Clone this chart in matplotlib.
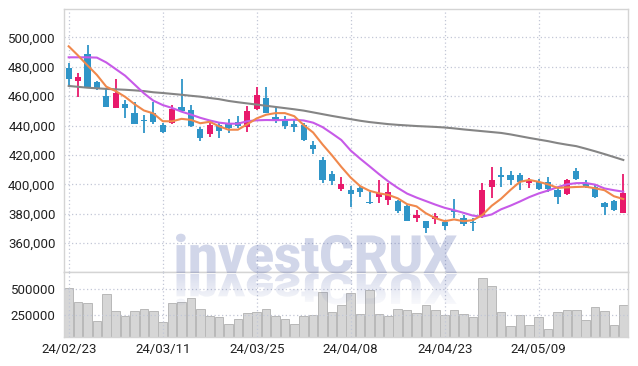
import numpy as np
import matplotlib
matplotlib.use("Agg")
import matplotlib.pyplot as plt
from matplotlib.textpath import TextPath
from matplotlib.patches import PathPatch
from matplotlib.font_manager import FontProperties
from matplotlib.transforms import Affine2D

# daily candles, 60 trading days
opens = [479000, 470600, 488800, 469900, 460200, 452200, 454700, 448800, 443600, 448800,
         440400, 441500, 452700, 450600, 437700, 434100, 440500, 441500, 442400, 439300,
         451100, 458600, 445600, 442900, 441100, 440200, 426800, 416600, 407000, 396800,
         396100, 397700, 387600, 391600, 389300, 388800, 385200, 377000, 375000, 376200,
         374500, 382500, 376800, 374200, 377500, 398000, 406300, 406300, 406300, 401100,
         401400, 401400, 396100, 393200, 409100, 401100, 398400, 387500, 388600, 380700]
closes = [471700, 473300, 466100, 464700, 452900, 462000, 452200, 441300, 443200, 442600,
          435800, 451500, 449900, 439700, 431300, 440400, 436400, 438100, 439700, 449700,
          460800, 448800, 443300, 439700, 439300, 430200, 424000, 402900, 402500, 400000,
          393400, 395000, 387000, 393900, 394800, 381800, 375200, 379100, 370400, 378400,
          371600, 381100, 373000, 373900, 396100, 402900, 405200, 402900, 401400, 402500,
          396600, 396600, 391100, 402900, 403600, 398000, 391100, 384300, 382500, 393900]
highs = [482800, 475600, 494900, 470500, 465400, 471500, 457400, 456300, 447200, 456300,
         441700, 454000, 471500, 454000, 439300, 442000, 442600, 444300, 446500, 453400,
         466100, 466100, 452400, 446500, 444300, 442000, 429700, 418400, 409300, 404800,
         398800, 398800, 394500, 402900, 400700, 389300, 385900, 382500, 375000, 380700,
         375700, 389800, 379100, 376800, 400700, 412000, 412000, 409300, 407900, 404100,
         403400, 404800, 398400, 403600, 410900, 403000, 399500, 388100, 389300, 407000]
lows = [467600, 459700, 465400, 464000, 452900, 451800, 445000, 441300, 434700, 441000,
        434700, 441000, 449500, 439300, 429700, 432400, 431500, 435100, 438100, 435800,
        450600, 448400, 441500, 437500, 435800, 429500, 420600, 400700, 399500, 395400,
        384300, 391600, 386600, 387000, 385900, 380300, 375200, 374500, 366600, 373000,
        368900, 376800, 371600, 368400, 376800, 390500, 398000, 399500, 396100, 397300,
        396100, 395000, 386600, 392700, 402900, 397300, 390500, 379100, 381800, 380300]

ma5 = [494000, 487700, 481000, 474500, 466500, 463500, 459600, 454600, 450300, 448300,
       443000, 442900, 444600, 443900, 441600, 442600, 439500, 437200, 437200, 440900,
       444900, 447400, 448500, 448500, 446400, 440300, 435300, 427200, 419800, 411900,
       404600, 398800, 395600, 393900, 392800, 390500, 386500, 385000, 380300, 377000,
       374900, 376100, 374900, 375600, 379100, 385400, 390200, 396200, 401700, 403000,
       401700, 400000, 397600, 397900, 398200, 398400, 397300, 396000, 391900, 390000]
ma20 = [486500, 486500, 486500, 486300, 483000, 478500, 474000, 468000, 462000, 457000,
        454000, 452000, 449500, 447500, 445300, 443500, 442000, 441300, 441300, 443000,
        443600, 443800, 443700, 443800, 444000, 443500, 442000, 439000, 434700, 430200,
        423000, 417500, 412300, 407000, 402000, 397600, 393700, 391000, 388600, 386200,
        384000, 382400, 380600, 378700, 378000, 379500, 383000, 385500, 388300, 391300,
        393800, 395800, 398000, 400000, 400800, 400900, 399800, 397200, 396000, 395000]
ma60 = [467000, 466400, 465800, 465400, 465000, 464700, 464400, 464000, 463500, 462700,
        462200, 461600, 461000, 460300, 459700, 458800, 458000, 456800, 455900, 455100,
        454300, 453500, 452700, 451900, 451100, 450200, 449000, 447800, 446600, 445500,
        444400, 443300, 442400, 441700, 441000, 440500, 440100, 439700, 439400, 439100,
        438700, 438100, 437400, 436800, 436200, 435600, 435000, 434000, 432800, 431600,
        430500, 429400, 428100, 427000, 426000, 424300, 422500, 420600, 418600, 416600]

volumes = [511800, 374500, 364700, 191200, 452900, 282400, 240200, 282400, 305900, 282400,
           178400, 364700, 380400, 413700, 305900, 240200, 227500, 161800, 207800, 266700,
           276500, 305900, 240200, 207800, 161800, 233300, 250000, 478400, 276500, 348000,
           462700, 256900, 495100, 259800, 240200, 305900, 292200, 266700, 348000, 299000,
           250000, 299000, 259800, 227500, 609800, 534300, 276500, 142200, 250000, 152000,
           227500, 112700, 276500, 299000, 299000, 201000, 325500, 289200, 152000, 348000]

date_pos = [0, 10, 20, 30, 40, 50]
date_labels = ['24/02/23', '24/03/11', '24/03/25', '24/04/08', '24/04/23', '24/05/09']
price_ticks = [360000, 380000, 400000, 420000, 440000, 460000, 480000, 500000]
vol_ticks = [250000, 500000]

up_color = '#e8196b'
down_color = '#2f95c8'
grid_color = '#c2c7d6'
frame_color = '#d4d4d4'
label_font = 'Roboto'

fig = plt.figure(figsize=(6.38, 3.66), dpi=100)
ax = fig.add_axes([64/638, 94/366, 564/638, 263/366])
axv = fig.add_axes([64/638, 29/366, 564/638, 65/366])

x = np.arange(len(opens))
o = np.array(opens)
c = np.array(closes)
colors = [up_color if cc >= oo else down_color for oo, cc in zip(o, c)]

ax.vlines(x, lows, highs, colors=colors, linewidth=1.3, zorder=3)
body = np.maximum(np.abs(c - o), 700)
ax.bar(x, body, bottom=np.minimum(o, c), width=0.64, color=colors, zorder=4)

ax.plot(x, ma60, color='#858585', linewidth=1.5, zorder=5)
ax.plot(x, ma20, color='#c75ae8', linewidth=1.5, zorder=5)
ax.plot(x, ma5, color='#f0884c', linewidth=1.5, zorder=5)

ax.set_xlim(-0.5, len(opens) - 0.5)
ax.set_ylim(340300, 519400)
ax.set_yticks(price_ticks)
ax.set_yticklabels([f"{t:,}" for t in price_ticks])
ax.set_xticks(date_pos)
ax.set_xticklabels([])
ax.grid(True, color=grid_color, linestyle=(0, (1, 2)), linewidth=0.9)
ax.set_axisbelow(True)

axv.bar(x, volumes, width=0.92, color='#d6d6d6', edgecolor='#b8b8b8', linewidth=0.7, zorder=2)
axv.set_xlim(-0.5, len(opens) - 0.5)
axv.set_ylim(30000, 672000)
axv.set_yticks(vol_ticks)
axv.set_yticklabels([str(t) for t in vol_ticks])
axv.set_xticks(date_pos)
axv.set_xticklabels(date_labels)
axv.grid(True, color=grid_color, linestyle=(0, (1, 2)), linewidth=0.9, zorder=3)
axv.set_axisbelow(False)

for a in (ax, axv):
    a.tick_params(length=0, labelsize=9.5, labelcolor='#222222', pad=6)
    for lab in a.get_xticklabels() + a.get_yticklabels():
        lab.set_family(label_font)
    for s in a.spines.values():
        s.set_color(frame_color)
        s.set_linewidth(1.0)
axv.tick_params(axis='x', pad=4)

# watermark with reflection, drawn in pixel coordinates
over = fig.add_axes([0, 0, 1, 1], zorder=10)
over.axis('off')
over.patch.set_visible(False)

fp = FontProperties(family='Roboto', weight='black')
tp = TextPath((0, 0), 'investCRUX', size=1, prop=fp)
ext = tp.get_extents()
left, right, base = 176, 457, 273
s = (right - left) / ext.width
x0 = left - ext.x0 * s
wm = (0.25, 0.33, 0.65)

main = PathPatch(tp, transform=Affine2D().scale(s, -s).translate(x0, base) + over.transData,
                 facecolor=wm, edgecolor='none', alpha=0.24)
over.add_patch(main)

refl = PathPatch(tp, transform=Affine2D().scale(s, s * 0.8).translate(x0, base + 1) + over.transData,
                 facecolor='none', edgecolor='none')
over.add_patch(refl)
grad = np.zeros((64, 1, 4))
grad[:, 0, 0] = wm[0]
grad[:, 0, 1] = wm[1]
grad[:, 0, 2] = wm[2]
grad[:, 0, 3] = np.linspace(0.2, 0.02, 64)
img = over.imshow(grad, extent=[left - 5, right + 5, base + 34, base + 1], aspect='auto',
                  interpolation='bilinear', origin='upper')
img.set_clip_path(refl)
over.set_xlim(0, 638)
over.set_ylim(366, 0)

fig.savefig('out.png', dpi=100)
